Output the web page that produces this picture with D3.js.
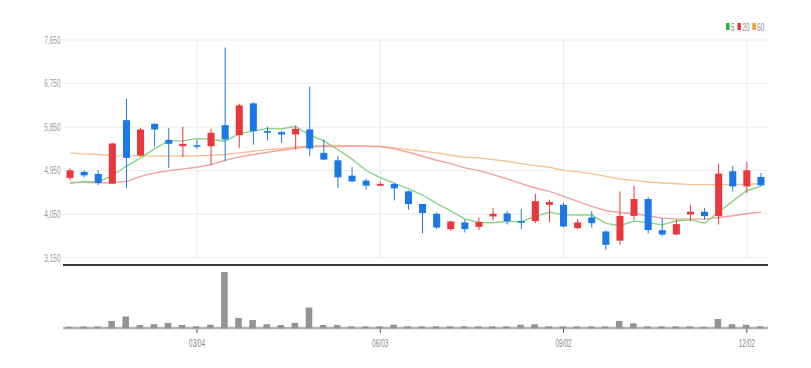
<!DOCTYPE html>
<html>
<head>
<meta charset="utf-8">
<script src="https://cdn.jsdelivr.net/npm/d3@7"></script>
<style>
	body { margin: 0; background: #fff; }
	svg { display: block; font-family: "Liberation Sans", "Roboto", sans-serif; }
	.grid line { stroke: #ececec; stroke-width: 1; }
	.axis text { fill: #8f8f8f; font-size: 10.5px; }
</style>
</head>
<body>
<svg id="chart" width="811" height="368"></svg>
<script>
// weekly candles, 2019
const dates = ["12/31","01/07","01/14","01/21","01/28","02/04","02/11","02/18","02/25","03/04",
	"03/11","03/18","03/25","04/01","04/08","04/15","04/22","04/29","05/06","05/13",
	"05/20","05/27","06/03","06/10","06/17","06/24","07/01","07/08","07/15","07/22",
	"07/29","08/05","08/12","08/19","08/26","09/02","09/09","09/16","09/23","09/30",
	"10/07","10/14","10/21","10/28","11/04","11/11","11/18","11/25","12/02","12/09"];
const openPrices = [4799,4923,4882,4680,5993,5261,5919,5587,5455,5475,
	5454,5890,5682,6340,5766,5744,5697,5800,5317,5164,
	4846,4743,4639,4674,4521,4260,4058,3740,3879,3788,
	4002,4065,3906,3906,4244,4244,3761,3982,3692,3502,
	4013,4362,3720,3630,4044,4100,4010,4936,4624,4819];
const highPrices = [4998,4956,4956,5524,6437,5836,5919,5827,5856,5593,
	5815,7495,6333,6360,5856,5766,5883,6686,5593,5247,
	5019,4784,4728,4695,4541,4260,4085,3913,3934,3982,
	4175,4113,4154,4472,4348,4286,3948,4113,3713,4520,
	4639,4404,3969,3934,4238,4175,5095,5039,5130,4902];
const lowPrices = [4749,4811,4653,4670,4591,5247,5442,5006,5226,5400,
	5054,5143,5421,5489,5572,5524,5385,5247,5164,4591,
	4707,4556,4625,4334,4141,3654,3740,3705,3671,3726,
	3920,3837,3740,3864,3886,3774,3740,3774,3309,3413,
	3934,3654,3595,3616,3906,3934,3837,4521,4487,4624];
const closePrices = [4956,4853,4695,5510,5213,5800,5800,5504,5504,5448,
	5732,5593,6298,5766,5732,5697,5815,5406,5178,4811,
	4728,4639,4674,4583,4260,4073,3774,3899,3740,3892,
	4058,3906,3872,4320,4300,3795,3879,3864,3416,4013,
	4362,3720,3630,3844,4100,4010,4888,4624,4956,4645];
const volumes = [0.5,1,1,11,19,3.7,5,7.3,3.7,1.2,
	4.2,100,16.5,12.8,5,3.7,7.3,35.3,3.7,3.7,
	1.2,1.2,1.2,4.2,1.2,1.2,1.2,1.2,1.2,1.2,
	1.2,1.2,4.2,5,1.2,1.2,1.2,1.2,1.2,11,
	6.7,1.2,1.2,1.2,1.2,0.5,14.6,5,4.2,1.2];

// moving averages
const ma5 = [4680,4728,4716,4850,5045,5214,5404,5565,5564,5611,
	5598,5556,5715,5767,5824,5817,5862,5683,5566,5381,
	5188,4952,4806,4687,4577,4446,4273,4118,3949,3876,
	3873,3899,3894,4010,4091,4039,4033,4032,3860,3810,
	3907,3875,3828,3914,3931,3861,4094,4320,4540,4625];
const ma20 = [4707,4707,4700,4700,4728,4832,4902,4950,4985,5020,
	5074,5164,5234,5282,5330,5371,5413,5441,5454,5450,
	5454,5454,5441,5400,5330,5247,5164,5095,5006,4950,
	4867,4778,4680,4591,4521,4417,4313,4210,4120,4085,
	4058,4016,3969,3948,3948,3948,3982,4016,4058,4092];
const ma60 = [5317,5296,5282,5261,5254,5254,5254,5254,5254,5256,
	5265,5282,5317,5351,5385,5406,5441,5454,5468,5468,
	5460,5456,5454,5420,5385,5351,5317,5268,5227,5213,
	5178,5143,5095,5054,5019,4956,4923,4888,4832,4778,
	4749,4716,4695,4680,4660,4660,4660,4660,4670,4680];

const priceTicks = [3150,4050,4950,5850,6750,7650];
const tickLabels = ["03/04","06/03","09/02","12/02"];
const maNames = ["5","20","60"];
const maColors = ["#86d586","#f4a0a0","#f7c291"];
const legendColors = ["#22b14c","#e8383d","#f39c3c"];
const upColor = "#e8383d", downColor = "#1b78e6";
const narrow = "scale(0.62,1)";

const svg = d3.select("#chart");
const left = 63, right = 768;

const x = d3.scaleBand().domain(dates).range([left, right]).paddingInner(0.5).paddingOuter(0.25);
const y = d3.scaleLinear().domain([3150, 7650]).range([257.7, 40]);
const yVol = d3.scaleLinear().domain([0, 100]).range([327.5, 272.5]);
const cx = d => x(d) + x.bandwidth() / 2;

// grid
const grid = svg.append("g").classed("grid", true);
grid.selectAll(".h").data(priceTicks).enter().append("line")
	.attr("x1", left).attr("x2", right)
	.attr("y1", d => y(d)).attr("y2", d => y(d));
grid.selectAll(".v").data(tickLabels).enter().append("line")
	.attr("x1", d => cx(d)).attr("x2", d => cx(d))
	.attr("y1", y(7650)).attr("y2", y(3150));

// price axis
const yAxis = svg.append("g").classed("axis", true)
	.attr("transform", "translate(" + (left - 2.5) + ",0)")
	.call(d3.axisLeft(y).tickValues(priceTicks).tickFormat(d3.format(",")).tickSize(0).tickPadding(0));
yAxis.select(".domain").remove();
yAxis.selectAll("text").attr("transform", narrow).style("fill", "#999");

// MA lines
const series = [ma5, ma20, ma60];
const line = d3.line().x((d, i) => cx(dates[i])).y(d => y(d));
[2, 1, 0].forEach(function(idx){
	svg.append("path").datum(series[idx])
		.attr("fill", "none")
		.attr("stroke", maColors[idx])
		.attr("stroke-width", 1.4)
		.attr("d", line);
});

// candles
const candles = svg.append("g").selectAll("g").data(dates).enter().append("g");
const col = (d, i) => closePrices[i] >= openPrices[i] ? upColor : downColor;
candles.append("line")
	.attr("x1", d => cx(d)).attr("x2", d => cx(d))
	.attr("y1", (d, i) => y(highPrices[i])).attr("y2", (d, i) => y(lowPrices[i]))
	.attr("stroke", col).attr("stroke-width", 1);
candles.append("rect")
	.attr("x", d => x(d))
	.attr("width", x.bandwidth())
	.attr("y", (d, i) => y(Math.max(openPrices[i], closePrices[i])))
	.attr("height", (d, i) => Math.max(1.5, Math.abs(y(openPrices[i]) - y(closePrices[i]))))
	.attr("fill", col);

// separator
svg.append("line").attr("x1", left).attr("x2", right).attr("y1", 265).attr("y2", 265)
	.attr("stroke", "#3a3a3a").attr("stroke-width", 2);

// volume
svg.append("line").attr("x1", left).attr("x2", right)
	.attr("y1", yVol(0) + 0.5).attr("y2", yVol(0) + 0.5)
	.attr("stroke", "#b4b4b4").attr("stroke-width", 2.5);
svg.append("g").selectAll("rect").data(dates).enter().append("rect")
	.attr("x", d => x(d) - 0.5)
	.attr("width", x.bandwidth() - 0.5)
	.attr("y", (d, i) => yVol(volumes[i]) - 0.5)
	.attr("height", (d, i) => yVol(0) - yVol(volumes[i]) + 1.5)
	.attr("fill", "#939393");

const xAxis = svg.append("g").classed("axis", true)
	.attr("transform", "translate(0," + (yVol(0) + 1.5) + ")")
	.call(d3.axisBottom(x).tickValues(tickLabels).tickSize(4).tickPadding(7));
xAxis.select(".domain").remove();
xAxis.selectAll(".tick line").attr("stroke", "#555");
xAxis.selectAll("text").attr("transform", narrow).style("fill", "#888");

// legend
const legend = svg.append("g").attr("transform", "translate(726,23)");
let lx = 0;
maNames.forEach(function(n, i){
	legend.append("rect").attr("x", lx).attr("y", 0).attr("width", 3.5).attr("height", 7).attr("fill", legendColors[i]);
	const t = legend.append("text")
		.attr("transform", "translate(" + (lx + 5) + ",7.5) " + narrow)
		.style("font-size", "10px").style("fill", "#888").text(n);
	lx += 5 + t.node().getComputedTextLength() * 0.62 + 3;
});
</script>
</body>
</html>
